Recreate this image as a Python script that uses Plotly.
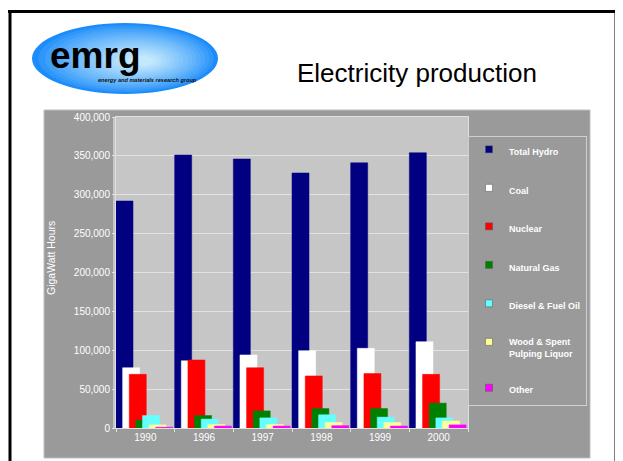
import plotly.graph_objects as go

# ---------------- data ----------------
years = ["1990", "1996", "1997", "1998", "1999", "2000"]
total_hydro = [292000, 351000, 346000, 328000, 341000, 354000]
coal = [77500, 86500, 94000, 99500, 102500, 111000]
nuclear = [69000, 87500, 77500, 67000, 70000, 69000]
natural_gas = [10000, 16000, 22000, 25000, 25000, 32000]
diesel_fuel_oil = [16000, 11500, 13000, 17000, 14000, 13000]
wood_pulping = [4000, 4500, 4500, 7000, 7000, 9000]
other = [1000, 2500, 2500, 3000, 2500, 4000]
series_names = ["Total Hydro", "Coal", "Nuclear", "Natural Gas",
                "Diesel & Fuel Oil", "Wood & Spent<br>Pulping Liquor", "Other"]
y_tick_values = [0, 50000, 100000, 150000, 200000, 250000, 300000, 350000, 400000]
y_tick_labels = ["0", "50,000", "100,000", "150,000", "200,000",
                 "250,000", "300,000", "350,000", "400,000"]

series_values = [total_hydro, coal, nuclear, natural_gas,
                 diesel_fuel_oil, wood_pulping, other]
colors = ["#000080", "#ffffff", "#ff0000", "#008000", "#66ffff", "#ffff99", "#ff00ff"]

# ---------------- geometry ----------------
OFF = 8                      # page body margin of the html page
W, H = 623 - OFF, 461 - OFF
PL, PR, PT, PB = 116, 468, 117, 428   # plot area in screen pixels


def px(x):
    return (x - PL) / (PR - PL)


def py(y):
    return (PB - y) / (PB - PT)


fig = go.Figure()

bar_w = 0.29
step = 0.113
for i, (name, vals, col) in enumerate(zip(series_names, series_values, colors)):
    fig.add_trace(go.Bar(
        x=years, y=vals, name=name,
        marker=dict(color=col, line=dict(color=col, width=0.5)),
        width=bar_w, offset=-0.5 + i * step,
        showlegend=False,
    ))
for name, col in zip(series_names, colors):
    fig.add_trace(go.Scatter(
        x=[None], y=[None], mode="markers", name=name, legendgroup=name,
        marker=dict(symbol="square", size=7, color=col,
                    line=dict(color="#555555", width=0.5)),
        showlegend=True,
    ))

shapes = []
# outer dark gray chart area
shapes.append(dict(type="rect", xref="paper", yref="paper", layer="below",
                   x0=px(44), x1=px(590), y0=py(458), y1=py(110),
                   fillcolor="#9a9a9a", line=dict(color="#bdbdbd", width=1)))
# plot area light gray
shapes.append(dict(type="rect", xref="paper", yref="paper", layer="below",
                   x0=px(113), x1=1, y0=0, y1=1,
                   fillcolor="#c6c6c6", line=dict(width=0)))
# black slide border
shapes.append(dict(type="line", xref="paper", yref="paper",
                   x0=px(8), x1=px(618), y0=py(11.5), y1=py(11.5),
                   line=dict(color="black", width=3)))
shapes.append(dict(type="line", xref="paper", yref="paper",
                   x0=px(10), x1=px(10), y0=py(10), y1=py(470),
                   line=dict(color="black", width=3)))
shapes.append(dict(type="line", xref="paper", yref="paper",
                   x0=px(616), x1=px(616), y0=py(10), y1=py(470),
                   line=dict(color="black", width=3)))

# logo ellipse with a simulated radial gradient
N = 16
cx0, cy0, rx0, ry0 = 125, 58.5, 93, 35.5
cx1, cy1 = 142, 61
c_out = (28, 140, 250)
c_in = (205, 238, 252)
for i in range(N):
    t = i / N
    cx = cx0 + (cx1 - cx0) * t
    cy = cy0 + (cy1 - cy0) * t
    rx = rx0 * (1 - t * 0.92)
    ry = ry0 * (1 - t * 0.92)
    tt = t ** 0.8
    c = tuple(int(round(a + (b - a) * tt)) for a, b in zip(c_out, c_in))
    shapes.append(dict(type="circle", xref="paper", yref="paper",
                       x0=px(cx - rx), x1=px(cx + rx),
                       y0=py(cy + ry), y1=py(cy - ry),
                       fillcolor="rgb(%d,%d,%d)" % c, line=dict(width=0)))

annotations = [
    dict(text="<b>emrg</b>", xref="paper", yref="paper", x=px(95), y=py(56),
         xanchor="center", yanchor="middle", showarrow=False,
         font=dict(family="Liberation Sans, Arial", size=37, color="black")),
    dict(text="<b><i>energy and materials research group</i></b>", xref="paper", yref="paper",
         x=px(147), y=py(80), xanchor="center", yanchor="middle", showarrow=False,
         font=dict(family="Liberation Sans, Arial", size=5.6, color="#111111")),
    dict(text="Electricity production", xref="paper", yref="paper",
         x=px(417), y=py(73), xanchor="center", yanchor="middle", showarrow=False,
         font=dict(family="Liberation Sans, Arial", size=26, color="black")),
    dict(text="GigaWatt Hours", xref="paper", yref="paper",
         x=px(51), y=py(258), xanchor="center", yanchor="middle", showarrow=False,
         textangle=-90,
         font=dict(family="Liberation Sans, Arial", size=10.5, color="white")),
]

fig.update_layout(
    width=W, height=H,
    margin=dict(l=PL - OFF, r=623 - PR, t=PT - OFF, b=461 - PB, pad=0),
    paper_bgcolor="white",
    plot_bgcolor="rgba(0,0,0,0)",
    barmode="overlay",
    shapes=shapes,
    annotations=annotations,
    showlegend=True,
    legend=dict(
        x=px(468), y=py(136), xanchor="left", yanchor="top",
        bgcolor="#9a9a9a", bordercolor="#d0d0d0", borderwidth=1,
        font=dict(family="Liberation Sans, Arial", size=9, color="white", weight="bold"),
        tracegroupgap=19.5, valign="top", traceorder="grouped",
    ),
    xaxis=dict(
        type="category", categoryorder="array", categoryarray=years,
        tickson="boundaries", ticks="outside", ticklen=3, tickcolor="#e0e0e0",
        showline=True, linecolor="#e0e0e0", linewidth=1, mirror=True,
        showgrid=False, zeroline=False,
        tickfont=dict(family="Liberation Sans, Arial", size=10, color="white"),
        range=[-0.5, 5.5], fixedrange=True,
    ),
    yaxis=dict(
        range=[0, 400000], tickmode="array",
        tickvals=y_tick_values, ticktext=y_tick_labels,
        ticks="outside", ticklen=3, tickcolor="#e0e0e0",
        showline=True, linecolor="#e0e0e0", linewidth=1, mirror=True,
        showgrid=True, gridcolor="#e2e2e2", gridwidth=1, zeroline=False,
        tickfont=dict(family="Liberation Sans, Arial", size=10, color="white"),
        fixedrange=True,
    ),
)

fig.write_html("out.html")
